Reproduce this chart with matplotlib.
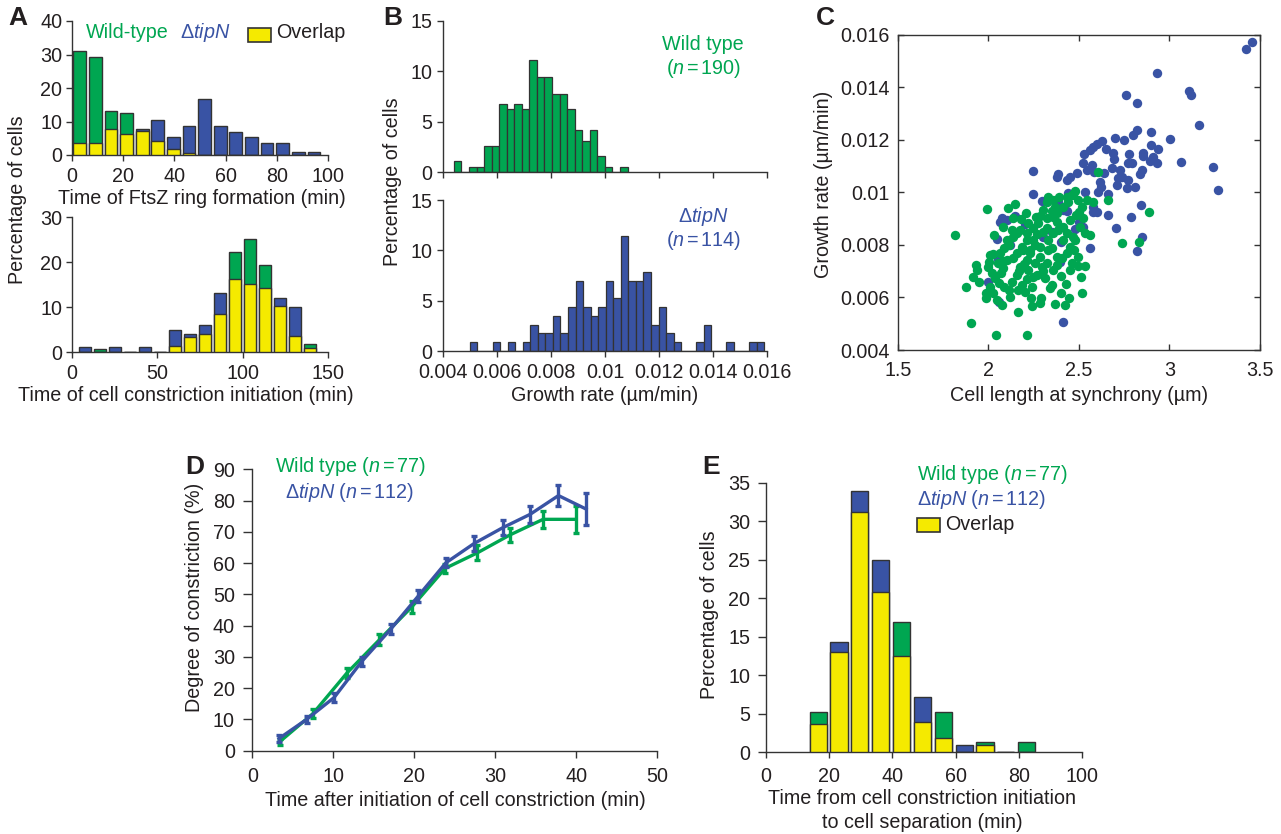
import numpy as np
import matplotlib
matplotlib.use("Agg")
import matplotlib.pyplot as plt
from matplotlib.patches import Rectangle

plt.rcParams['font.family'] = ['Liberation Sans', 'DejaVu Sans']
plt.rcParams['mathtext.fontset'] = 'custom'
plt.rcParams['mathtext.rm'] = 'Liberation Sans'
plt.rcParams['mathtext.it'] = 'Liberation Sans:italic'

GREEN = '#00A651'
BLUE = '#3953A4'
YELLOW = '#F5EA00'
TEXT = '#231F20'
EDGE = '#333333'
FS = 14.2

# ---------------- data ----------------
# Panel A (top): time of FtsZ ring formation
A1_time = [3.0, 9.1, 15.2, 21.3, 27.4, 33.5, 39.6, 45.7, 51.8, 57.9, 64.0, 70.1, 76.2, 82.3, 88.4, 94.5]
A1_wt = [31.0, 29.4, 13.1, 12.6, 7.3, 4.1, 1.7, 0.5, 0, 0, 0, 0, 0, 0, 0, 0]
A1_tipn = [3.5, 3.5, 7.8, 6.2, 7.9, 10.5, 5.4, 8.7, 16.6, 8.7, 7.0, 5.4, 3.5, 3.5, 0.9, 0.9]

# Panel A (bottom): time of constriction initiation
A2_time = [7.4, 16.2, 25.0, 33.8, 42.6, 51.4, 60.2, 69.0, 77.8, 86.6, 95.4, 104.2, 113.0, 121.8, 130.6, 139.4]
A2_wt = [0, 0.6, 0, 0, 0, 0, 1.3, 3.4, 3.9, 8.5, 22.2, 25.1, 19.4, 10.2, 3.5, 1.7]
A2_tipn = [1.1, 0, 1.1, 0, 1.1, 0, 5.0, 4.1, 6.0, 13.1, 16.2, 15.1, 14.2, 12.1, 10.0, 1.0]

# Panel B: growth-rate histograms (percentage of cells per bin)
B_wt_start, B_tipn_start, B_binw = 0.004395, 0.004988, 0.00028
B_wt = [1.1, 0, 0.5, 0.5, 2.6, 2.6, 6.8, 6.3, 6.8, 6.3, 11.1, 9.4, 9.4, 7.8, 7.8,
        6.3, 4.2, 3.1, 4.2, 1.6, 0.5, 0, 0.5]
B_tipn = [0.9, 0, 0, 0.9, 0, 0.9, 0, 0.9, 2.6, 1.8, 1.8, 3.5, 1.8, 4.4, 7.0, 4.4,
          3.5, 4.4, 7.0, 5.3, 11.4, 7.0, 7.0, 7.9, 2.6, 4.4, 1.8, 0.9, 0, 0,
          0.9, 2.6, 0, 0, 0.9, 0, 0, 0.9, 0.9]

# Panel C: cell length vs growth rate
C_tipn_len = [3.454, 3.423, 2.933, 2.758, 2.823, 3.110, 3.117, 3.165, 3.239, 3.266,
              3.062, 3.003, 2.898, 2.823, 2.797, 2.701, 2.747, 2.630, 2.598, 2.576,
              2.562, 2.648, 2.528, 2.525, 2.571, 2.896, 2.938, 2.856, 2.856, 2.779,
              2.691, 2.694, 2.911, 2.933, 2.893, 2.773, 2.795, 2.683, 2.641, 2.586,
              2.543, 2.488, 2.451, 2.433, 2.387, 2.378, 2.249, 2.727, 2.740, 2.718,
              2.709, 2.773, 2.838, 2.847, 2.617, 2.621, 2.608, 2.534, 2.580, 2.580,
              2.598, 2.663, 2.663, 2.442, 2.387, 2.249, 2.295, 2.414, 2.433, 2.764,
              2.810, 2.841, 2.788, 2.703, 2.850, 2.823, 2.562, 2.525, 2.503, 2.078,
              2.065, 2.102, 2.148, 2.046, 2.052, 2.000, 2.061, 2.411, 2.396, 2.304,
              2.350, 2.200, 2.120, 2.480, 2.400]
C_tipn_rate = [0.01571, 0.01544, 0.01453, 0.01369, 0.01339, 0.01386, 0.01370, 0.01255, 0.01098, 0.01009,
               0.01114, 0.01204, 0.01228, 0.01237, 0.01217, 0.01207, 0.01199, 0.01197, 0.01184, 0.01173,
               0.01161, 0.01166, 0.01146, 0.01110, 0.01105, 0.01180, 0.01165, 0.01150, 0.01138, 0.01145,
               0.01148, 0.01126, 0.01136, 0.01113, 0.01118, 0.01110, 0.01110, 0.01091, 0.01072, 0.01077,
               0.01085, 0.01072, 0.01060, 0.01047, 0.01070, 0.01057, 0.01082, 0.01085, 0.01060, 0.01053,
               0.01028, 0.01047, 0.01070, 0.01085, 0.01040, 0.01022, 0.01000, 0.01000, 0.00943, 0.00926,
               0.00926, 0.00994, 0.00914, 0.00999, 0.00964, 0.00994, 0.00968, 0.00933, 0.00930, 0.01015,
               0.01022, 0.00952, 0.00905, 0.00863, 0.00829, 0.00778, 0.00787, 0.00869, 0.00888, 0.00901,
               0.00888, 0.00895, 0.00910, 0.00821, 0.00745, 0.00660, 0.00584, 0.00505, 0.00736, 0.00831,
               0.00850, 0.00880, 0.00800, 0.00860, 0.00810]
C_wt_len = [1.816, 1.995, 1.905, 2.041, 2.212, 1.875, 1.932, 1.936, 1.918, 1.951,
            1.987, 1.987, 2.010, 2.028, 2.074, 2.166, 2.236, 2.243, 2.289, 2.286,
            2.368, 2.424, 2.448, 2.400, 2.516, 2.510, 2.534, 2.494, 2.451, 2.475,
            2.494, 2.466, 2.562, 2.736, 2.832, 2.889, 2.659, 2.604, 2.580, 2.543,
            2.503, 2.484, 2.521, 2.479, 2.460, 2.332, 2.359, 2.148, 2.111, 2.139,
            2.080, 2.034, 2.028, 2.006, 2.000, 2.071, 2.083, 2.037, 2.058, 2.087,
            2.116, 2.120, 2.166, 2.184, 2.212, 2.157, 2.175, 2.139, 2.157, 2.194,
            2.116, 2.105, 2.139, 2.175, 2.212, 2.249, 2.276, 2.322, 2.359, 2.304,
            2.286, 2.249, 2.286, 2.230, 2.258, 2.221, 2.267, 2.313, 2.350, 2.341,
            2.378, 2.405, 2.350, 2.332, 2.359, 2.387, 2.414, 2.433, 2.414, 2.451,
            2.378, 2.322, 2.442, 2.414, 2.378, 2.368, 2.212, 2.184, 2.286, 2.322,
            2.359, 2.378, 2.295, 2.249, 2.212, 2.065, 2.055, 2.102, 2.019, 2.087,
            2.129, 2.157, 2.221, 2.263, 2.322, 2.392, 2.433, 2.470, 2.497, 2.516,
            2.506, 2.534, 2.479, 2.451, 2.433, 2.199, 2.170, 2.260, 2.300, 2.200,
            2.240, 2.330, 2.270, 2.130, 2.080, 2.010, 2.050, 2.400, 2.430, 2.460,
            2.180, 2.210, 2.350, 2.230, 2.300]
C_wt_rate = [0.00838, 0.00937, 0.00504, 0.00457, 0.00457, 0.00638, 0.00723, 0.00704, 0.00679, 0.00660,
             0.00616, 0.00599, 0.00638, 0.00616, 0.00571, 0.00543, 0.00599, 0.00567, 0.00599, 0.00578,
             0.00575, 0.00571, 0.00599, 0.00616, 0.00618, 0.00677, 0.00721, 0.00721, 0.00704, 0.00781,
             0.00755, 0.00831, 0.00838, 0.00806, 0.00810, 0.00924, 0.00971, 0.01076, 0.00965, 0.00971,
             0.00926, 0.00914, 0.00901, 0.01005, 0.00990, 0.00984, 0.00971, 0.00956, 0.00939, 0.00901,
             0.00869, 0.00838, 0.00765, 0.00736, 0.00717, 0.00692, 0.00711, 0.00673, 0.00656, 0.00638,
             0.00628, 0.00603, 0.00628, 0.00647, 0.00669, 0.00685, 0.00717, 0.00749, 0.00768, 0.00781,
             0.00800, 0.00819, 0.00831, 0.00857, 0.00844, 0.00863, 0.00882, 0.00901, 0.00907, 0.00933,
             0.00910, 0.00819, 0.00793, 0.00768, 0.00730, 0.00704, 0.00685, 0.00673, 0.00647, 0.00635,
             0.00755, 0.00749, 0.00787, 0.00819, 0.00844, 0.00857, 0.00819, 0.00844, 0.00869, 0.00895,
             0.00888, 0.00863, 0.00965, 0.00946, 0.00920, 0.00946, 0.00819, 0.00793, 0.00755, 0.00730,
             0.00704, 0.00723, 0.00717, 0.00679, 0.00742, 0.00768, 0.00730, 0.00742, 0.00692, 0.00787,
             0.00857, 0.00844, 0.00882, 0.00907, 0.00965, 0.00981, 0.00984, 0.00994, 0.00971, 0.00946,
             0.00869, 0.00844, 0.00819, 0.00793, 0.00768, 0.00729, 0.00700, 0.00800, 0.00850, 0.00620,
             0.00640, 0.00780, 0.00840, 0.00660, 0.00740, 0.00760, 0.00590, 0.00680, 0.00650, 0.00730,
             0.00900, 0.00920, 0.00930, 0.00780, 0.00700]

# Panel D: degree of constriction over time (mean +/- error)
D_wt_time = [3.4, 7.5, 11.7, 15.7, 19.7, 23.8, 27.8, 31.8, 35.9, 40.0]
D_wt_deg = [2.9, 11.9, 24.9, 35.5, 46.0, 58.3, 63.3, 69.0, 74.0, 74.0]
D_wt_err = [1.0, 1.5, 1.5, 1.8, 1.8, 1.5, 2.4, 2.2, 2.8, 4.4]
D_tipn_time = [3.3, 6.7, 10.1, 13.5, 17.1, 20.5, 23.9, 27.4, 30.9, 34.3, 37.8, 41.2]
D_tipn_deg = [3.9, 10.0, 17.0, 28.5, 38.9, 49.5, 60.1, 66.3, 71.3, 75.6, 81.6, 77.3]
D_tipn_err = [1.0, 1.0, 1.5, 1.5, 1.5, 2.0, 1.5, 2.3, 2.4, 2.8, 3.4, 5.2]

# Panel E: time from constriction initiation to separation
E_time = [16.5, 23.1, 29.7, 36.3, 42.9, 49.5, 56.1, 62.7, 69.3, 75.9, 82.5]
E_wt = [5.2, 13.0, 31.2, 20.8, 16.9, 3.9, 5.2, 0, 1.3, 0, 1.3]
E_tipn = [3.6, 14.3, 33.9, 25.0, 12.5, 7.1, 1.8, 0.9, 0.9, 0, 0]

# ---------------- figure ----------------
W, H = 1281, 834
fig = plt.figure(figsize=(W / 100, H / 100), dpi=100)


def ax_px(l, r, t, b):
    return fig.add_axes([l / W, 1 - b / H, (r - l) / W, (b - t) / H])


def ftext(x, y, s, **kw):
    kw.setdefault('fontsize', FS)
    kw.setdefault('color', TEXT)
    kw.setdefault('ha', 'center')
    kw.setdefault('va', 'center')
    return fig.text(x / W, 1 - y / H, s, **kw)


def style_open(ax, xlen=4, xpad=4.5, ylen=4, ypad=3):
    for s in ['top', 'right']:
        ax.spines[s].set_visible(False)
    for s in ['left', 'bottom']:
        ax.spines[s].set_color(EDGE)
        ax.spines[s].set_linewidth(1.0)
    ax.tick_params(direction='out', width=1, colors=EDGE, labelcolor=TEXT, labelsize=FS)
    ax.tick_params(axis='x', length=xlen, pad=xpad)
    ax.tick_params(axis='y', length=ylen, pad=ypad)


def overlap_bars(ax, x, wt, tipn, width):
    wt = np.asarray(wt, float)
    tipn = np.asarray(tipn, float)
    hi = np.maximum(wt, tipn)
    lo = np.minimum(wt, tipn)
    cols = [GREEN if a > b else BLUE for a, b in zip(wt, tipn)]
    ax.bar(x, hi, width, color=cols, edgecolor=EDGE, linewidth=1.0, zorder=2)
    ax.bar(x, lo, width, color=YELLOW, edgecolor=EDGE, linewidth=1.0, zorder=3)


# Panel A top
axA1 = ax_px(72, 328, 21, 155)
overlap_bars(axA1, A1_time, A1_wt, A1_tipn, 5.0)
axA1.set_xlim(0, 100)
axA1.set_ylim(0, 40)
axA1.set_xticks([0, 20, 40, 60, 80, 100])
axA1.set_yticks([0, 10, 20, 30, 40])
style_open(axA1)
ftext(202, 198, 'Time of FtsZ ring formation (min)')
ftext(86, 33, 'Wild-type', color=GREEN, ha='left')
ftext(180, 33, r'$\mathit{ΔtipN}$', color=BLUE, ha='left')
fig.patches.append(Rectangle((248 / W, 1 - 42 / H), 23 / W, 14 / H, transform=fig.transFigure,
                             facecolor=YELLOW, edgecolor=EDGE, linewidth=1.2))
ftext(276, 33, 'Overlap', ha='left')

# Panel A bottom
axA2 = ax_px(72, 328, 217.3, 352)
overlap_bars(axA2, A2_time, A2_wt, A2_tipn, 7.0)
axA2.set_xlim(0, 150)
axA2.set_ylim(0, 30)
axA2.set_xticks([0, 50, 100, 150])
axA2.set_yticks([0, 10, 20, 30])
style_open(axA2)
ftext(186, 396, 'Time of cell constriction initiation (min)')
ftext(18, 200, 'Percentage of cells', rotation=90)
ftext(18, 18, 'A', fontsize=19, fontweight='bold')

# Panel B
B_wt_x = B_wt_start + B_binw * (np.arange(len(B_wt)) + 0.5)
B_tipn_x = B_tipn_start + B_binw * (np.arange(len(B_tipn)) + 0.5)
axB1 = ax_px(443.3, 766.7, 21, 172.3)
axB1.bar(B_wt_x, B_wt, B_binw, color=GREEN, edgecolor=EDGE, linewidth=0.9)
axB2 = ax_px(443.3, 766.7, 200, 351.3)
axB2.bar(B_tipn_x, B_tipn, B_binw, color=BLUE, edgecolor=EDGE, linewidth=0.9)
for ax in (axB1, axB2):
    ax.set_xlim(0.004, 0.016)
    ax.set_ylim(0, 15)
    ax.set_yticks([0, 5, 10, 15])
    ax.set_xticks([0.004, 0.006, 0.008, 0.010, 0.012, 0.014, 0.016])
    style_open(ax, ypad=4)
axB1.set_xticklabels([])
axB2.set_xticklabels(['0.004', '0.006', '0.008', '0.01', '0.012', '0.014', '0.016'])
ftext(605, 396, 'Growth rate (µm/min)')
ftext(393, 182, 'Percentage of cells', rotation=90)
ftext(703, 44, 'Wild type', color=GREEN)
ftext(703, 69, r'($n\,$=$\,$190)', color=GREEN)
ftext(703, 217, r'$\mathit{ΔtipN}$', color=BLUE)
ftext(703, 241, r'($n\,$=$\,$114)', color=BLUE)
ftext(393, 18, 'B', fontsize=19, fontweight='bold')

# Panel C
axC = ax_px(897.7, 1260, 34.7, 350)
axC.scatter(C_tipn_len, C_tipn_rate, s=46, color=BLUE, linewidths=0, zorder=2)
axC.scatter(C_wt_len, C_wt_rate, s=46, color=GREEN, linewidths=0, zorder=3)
axC.set_xlim(1.5, 3.5)
axC.set_ylim(0.004, 0.016)
axC.set_xticks([1.5, 2, 2.5, 3, 3.5])
axC.set_xticklabels(['1.5', '2', '2.5', '3', '3.5'])
axC.set_yticks([0.004, 0.006, 0.008, 0.010, 0.012, 0.014, 0.016])
axC.set_yticklabels(['0.004', '0.006', '0.008', '0.01', '0.012', '0.014', '0.016'])
for s in axC.spines.values():
    s.set_color(EDGE)
    s.set_linewidth(1.0)
axC.tick_params(direction='in', length=4, width=1, colors=EDGE, labelcolor=TEXT,
                labelsize=FS, top=True, right=True)
axC.tick_params(axis='x', pad=8)
axC.tick_params(axis='y', pad=6)
ftext(1079, 396, 'Cell length at synchrony (µm)')
ftext(823, 184, 'Growth rate (µm/min)', rotation=90)
ftext(825, 18, 'C', fontsize=19, fontweight='bold')

# Panel D
axD = ax_px(252.3, 657.3, 469.3, 750.7)
axD.errorbar(D_wt_time, D_wt_deg, yerr=D_wt_err, color=GREEN, lw=2.4, elinewidth=2.4,
             capsize=2.5, capthick=2.4, zorder=2)
axD.errorbar(D_tipn_time, D_tipn_deg, yerr=D_tipn_err, color=BLUE, lw=2.4, elinewidth=2.4,
             capsize=2.5, capthick=2.4, zorder=3)
axD.set_xlim(0, 50)
axD.set_ylim(0, 90)
axD.set_xticks([0, 10, 20, 30, 40, 50])
axD.set_yticks(list(range(0, 91, 10)))
style_open(axD, xlen=5, xpad=6.5, ylen=6.5, ypad=6)
ftext(455, 800, 'Time after initiation of cell constriction (min)')
ftext(194, 597, 'Degree of constriction (%)', rotation=90)
ftext(275, 467, r'Wild type ($n\,$=$\,$77)', color=GREEN, ha='left')
ftext(285, 492, r'$\mathit{ΔtipN}$ ($n\,$=$\,$112)', color=BLUE, ha='left')
ftext(195, 467, 'D', fontsize=19, fontweight='bold')

# Panel E
axE = ax_px(766, 1082, 482.7, 752)
overlap_bars(axE, E_time, E_wt, E_tipn, 5.4)
axE.set_xlim(0, 100)
axE.set_ylim(0, 35)
axE.set_xticks([0, 20, 40, 60, 80, 100])
axE.set_yticks([0, 5, 10, 15, 20, 25, 30, 35])
style_open(axE, xlen=4.5, xpad=6, ylen=6, ypad=5.5)
ftext(922, 798, 'Time from cell constriction initiation')
ftext(922, 822, 'to cell separation (min)')
ftext(710, 615, 'Percentage of cells', rotation=90)
ftext(917, 475, r'Wild type ($n\,$=$\,$77)', color=GREEN, ha='left')
ftext(917, 499, r'$\mathit{ΔtipN}$ ($n\,$=$\,$112)', color=BLUE, ha='left')
fig.patches.append(Rectangle((917 / W, 1 - 532 / H), 23 / W, 14 / H, transform=fig.transFigure,
                             facecolor=YELLOW, edgecolor=EDGE, linewidth=1.2))
ftext(945, 524, 'Overlap', ha='left')
ftext(711, 467, 'E', fontsize=19, fontweight='bold')

fig.savefig('out.png', dpi=100)
